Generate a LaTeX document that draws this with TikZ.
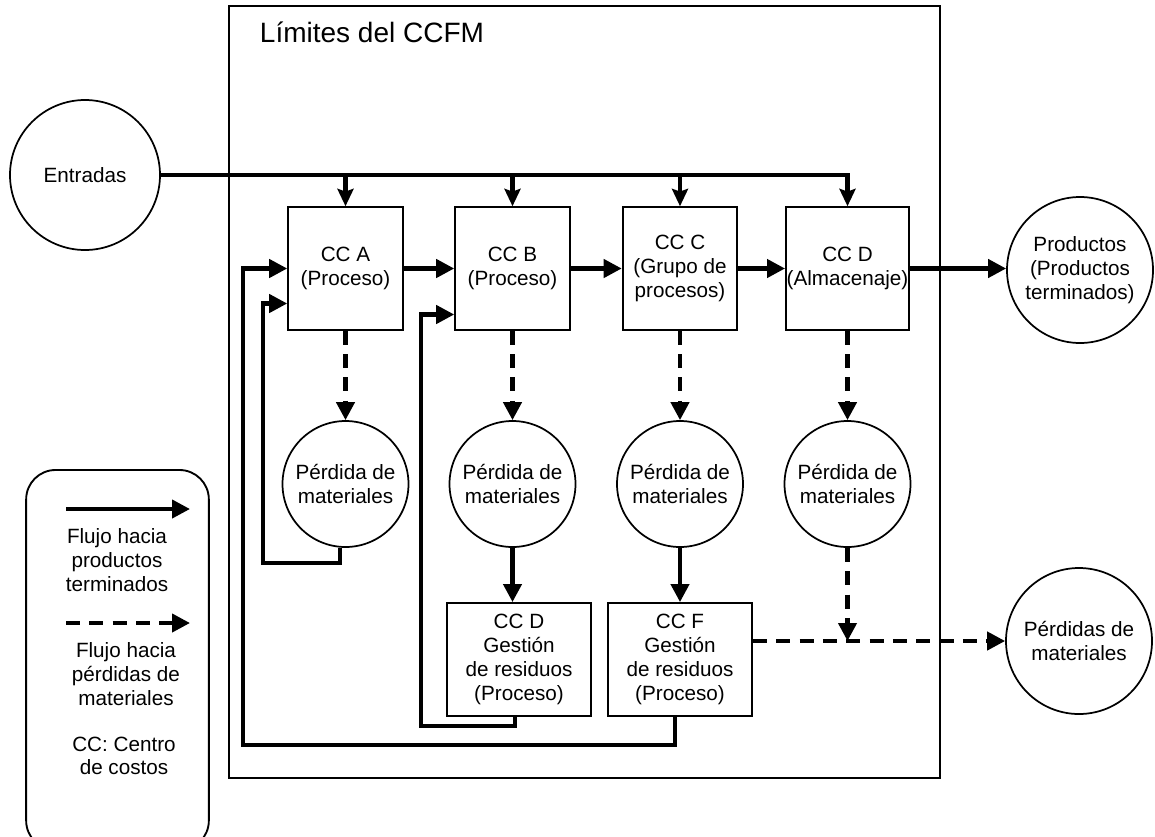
\documentclass[tikz,border=0pt]{standalone}
\usepackage{fontspec}
\setmainfont{Liberation Sans}
\usetikzlibrary{calc,
shapes.geometric,
arrows.meta,
positioning}

\begin{document}
\begin{tikzpicture} [x = 0.75pt,
        y = -0.75pt,
        >={Triangle[length = 13.5pt, width = 13.5pt]},
        font = \fontsize{15.5}{17.8}\selectfont,
        flow/.style={->, line width = 3.1pt},
        feed/.style={-{Stealth[length = 13pt, width = 12pt, inset = 2pt]}, line width = 3.1pt},
        loss flow/.style={->, line width = 3.1pt, dash pattern = on 10.5pt off 7pt},
        cc box/.style={rectangle, draw, line width = 1.4pt, fill = white,
                align = center, inner sep = 0pt,
                minimum width = 86pt, minimum height = 92pt},
        waste box/.style={cc box, minimum width = 108pt, minimum height = 84.75pt},
        loss circle/.style={circle, draw, line width = 1.3pt, fill = white,
                align = center, inner sep = 0pt, minimum size = 94.5pt},
        label text/.style={align = center, inner sep = 0pt}]

    \useasboundingbox (0, 0) rectangle (1155, 836);

    % limites del sistema
    \draw [line width = 1.1pt] (229, 6) rectangle (940, 778);
    \node [
        font = \fontsize{21}{25}\selectfont
    ] (title) at (372, 32) {Límites del CCFM};

    \node [
        loss circle,
        minimum size = 112.5pt
    ] (ent) at (85, 175) {Entradas};

    \node [
        loss circle,
        minimum size = 109.5pt
    ] (prod) at (1080, 270) {Productos\\(Productos\\terminados)};

    \node [
        loss circle,
        minimum size = 109.5pt
    ] (perd) at (1079, 641) {Pérdidas de\\materiales};

    % centros de costos
    \node [cc box] (cca) at (345.5, 268.5) {CC A\\(Proceso)};
    \node [cc box] (ccb) at (512.5, 268.5) {CC B\\(Proceso)};
    \node [cc box] (ccc) at (680, 268.5) {CC C\\(Grupo de\\procesos)};
    \node [
        cc box,
        minimum width = 92.25pt
    ] (ccd) at (847.5, 268.5) {CC D\\(Almacenaje)};

    \node [loss circle] (loss_a) at (345.5, 484) {Pérdida de\\materiales};
    \node [loss circle] (loss_b) at (512.5, 484) {Pérdida de\\materiales};
    \node [loss circle] (loss_c) at (680, 484) {Pérdida de\\materiales};
    \node [loss circle] (loss_d) at (847.5, 484) {Pérdida de\\materiales};

    \node [waste box] (ccw_d) at (519, 659.5) {CC D\\Gestión\\de residuos\\(Proceso)};
    \node [waste box] (ccw_f) at (680, 659.5) {CC F\\Gestión\\de residuos\\(Proceso)};

    % entradas
    \draw [feed] (ent.east) -| (ccd.north);
    \draw [feed] (ent.east -| cca.north) -- (cca.north);
    \draw [feed] (ent.east -| ccb.north) -- (ccb.north);
    \draw [feed] (ent.east -| ccc.north) -- (ccc.north);

    % flujo hacia productos
    \draw [flow] (cca) -- (ccb);
    \draw [flow] (ccb) -- (ccc);
    \draw [flow] (ccc) -- (ccd);
    \draw [flow] (ccd.east) -- (ccd.east -| prod.west);

    % flujo hacia perdidas
    \draw [loss flow] (cca) -- (loss_a);
    \draw [loss flow] (ccb) -- (loss_b);
    \draw [loss flow] (ccc) -- (loss_c);
    \draw [loss flow] (ccd) -- (loss_d);
    \draw [loss flow] (loss_d) -- (loss_d |- perd.west);
    \draw [loss flow] (ccw_f.east |- perd.west) -- (perd.west);

    \draw [flow] (loss_b) -- (loss_b |- ccw_d.north);
    \draw [flow] (loss_c) -- (loss_c |- ccw_f.north);

    % retornos
    \coordinate (loop_a) at (263, 563);
    \coordinate (loop_b) at (421, 726);
    \coordinate (loop_c) at (243, 745);
    \draw [flow] (loss_a.-95) |- (loop_a) |- ($(cca.west) + (0, 35)$);
    \draw [flow] ($(ccw_d.south) + (-4, 0)$) |- (loop_b) |- ($(ccb.west) + (0, 46)$);
    \draw [flow] ($(ccw_f.south) + (-5, 0)$) |- (loop_c) |- (cca.west);

    % leyenda
    \node [
        draw,
        line width = 1.4pt,
        rounded corners = 22pt,
        minimum width = 137pt,
        minimum height = 285pt
    ] (legend) at (117.5, 660) {};

    \coordinate (sol_a) at (66, 509);
    \coordinate (sol_b) at (190, 509);
    \coordinate (dash_a) at (66, 623);
    \coordinate (dash_b) at (190, 623);
    \draw [flow] (sol_a) -- (sol_b);
    \draw [loss flow] (dash_a) -- (dash_b);

    \node [label text] (sol_leg) at (117, 560) {Flujo hacia\\productos\\terminados};
    \node [label text] (dash_leg) at (126, 674) {Flujo hacia\\pérdidas de\\materiales};
    \node [label text] (cc_leg) at (124, 756) {CC: Centro\\de costos};

\end{tikzpicture}
\end{document}
